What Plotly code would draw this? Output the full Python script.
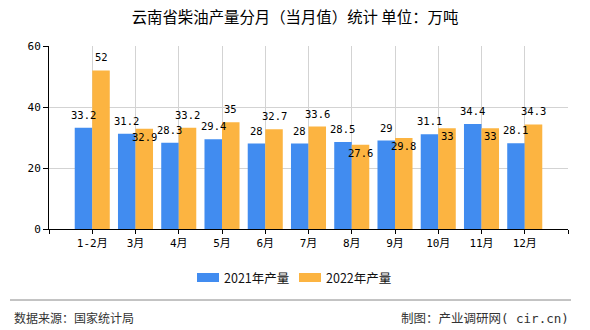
import plotly.graph_objects as go

categories = ["1-2月", "3月", "4月", "5月", "6月", "7月", "8月", "9月", "10月", "11月", "12月"]
output_2021 = [33.2, 31.2, 28.3, 29.4, 28, 28, 28.5, 29, 31.1, 34.4, 28.1]
output_2022 = [52, 32.9, 33.2, 35, 32.7, 33.6, 27.6, 29.8, 33, 33, 34.3]
series_names = ["2021年产量", "2022年产量"]
y_ticks = [0, 20, 40, 60]

title_text = "云南省柴油产量分月（当月值）统计 单位：万吨"
source_text = "数据来源：国家统计局"
credit_text = "制图：产业调研网<span style='font-family:DejaVu Sans Mono'>( cir.cn)</span>"

BLUE = "#418CF0"
ORANGE = "#FCB441"
W, H = 590, 330
L, R, T, B = 49, 22, 46, 101
PW, PH = W - L - R, H - T - B
BARGAP = 0.19
MONO = "DejaVu Sans Mono, Noto Sans CJK SC"
CJK = "Noto Sans CJK SC"


def px_x(px):
    return (px - L) / PW


def px_y(py):
    return (H - B - py) / PH


x = list(range(len(categories)))
colors = [BLUE, ORANGE]
fig = go.Figure()
for name, vals, col in zip(series_names, [output_2021, output_2022], colors):
    fig.add_bar(x=x, y=vals, name=name, marker_color=col, marker_line_width=0, showlegend=False)

half = (1 - BARGAP) / 4
annotations = []
for i, (a, b) in enumerate(zip(output_2021, output_2022)):
    annotations.append(dict(x=i - half, y=a, xref="x", yref="y", text=f"{a:g}", showarrow=False,
                            yanchor="middle", yshift=13, font=dict(family=MONO, size=10.5, color="#000")))
    shift = -8 if abs(b - a) < 3 else 13
    annotations.append(dict(x=i + half, y=b, xref="x", yref="y", text=f"{b:g}", showarrow=False,
                            yanchor="middle", yshift=shift, font=dict(family=MONO, size=10.5, color="#000")))

# custom legend (swatch + label)
shapes = []
legend_swatch_x = [197, 299]
for name, col, sx in zip(series_names, colors, legend_swatch_x):
    shapes.append(dict(type="rect", xref="paper", yref="paper",
                       x0=px_x(sx), x1=px_x(sx + 22), y0=px_y(282), y1=px_y(273),
                       fillcolor=col, line=dict(width=0)))
    annotations.append(dict(x=px_x(sx + 25), y=px_y(277.5), xref="paper", yref="paper", text=name,
                            showarrow=False, xanchor="left", yanchor="middle",
                            font=dict(family=CJK, size=12.5, color="#111")))

annotations.append(dict(x=px_x(12), y=px_y(317), xref="paper", yref="paper", text=source_text,
                        showarrow=False, xanchor="left", yanchor="middle",
                        font=dict(family=CJK, size=12, color="#333")))
annotations.append(dict(x=px_x(571), y=px_y(317), xref="paper", yref="paper", text=credit_text,
                        showarrow=False, xanchor="right", yanchor="middle",
                        font=dict(family=CJK, size=12.5, color="#333")))

shapes.append(dict(type="line", xref="paper", yref="paper",
                   x0=px_x(10), x1=px_x(571), y0=px_y(300), y1=px_y(300),
                   line=dict(color="#888", width=1)))

fig.update_layout(
    width=W, height=H,
    margin=dict(l=L, r=R, t=T, b=B, pad=0),
    paper_bgcolor="white", plot_bgcolor="white",
    barmode="group", bargap=BARGAP, bargroupgap=0,
    showlegend=False,
    title=dict(text=title_text, x=0.5, xref="container", xanchor="center",
               y=1 - 18 / H, yref="container", yanchor="middle",
               font=dict(family=CJK, size=15.4, color="#000")),
    xaxis=dict(range=[-1, len(categories)], tickmode="array",
               tickvals=list(range(-1, len(categories) + 1)),
               ticktext=[""] + categories + [""],
               showgrid=True, gridcolor="#d3d3d3", gridwidth=1,
               showline=True, linecolor="#000", linewidth=1,
               ticks="outside", ticklen=4, tickcolor="#000",
               zeroline=False, tickfont=dict(family=MONO, size=11, color="#000")),
    yaxis=dict(range=[0, 60], tickmode="array", tickvals=y_ticks,
               showgrid=True, gridcolor="#d3d3d3", gridwidth=1,
               showline=True, linecolor="#000", linewidth=1,
               ticks="outside", ticklen=5, tickcolor="#000",
               zeroline=False, tickfont=dict(family=MONO, size=11, color="#000")),
    annotations=annotations,
    shapes=shapes,
)

fig.write_html("out.html")
